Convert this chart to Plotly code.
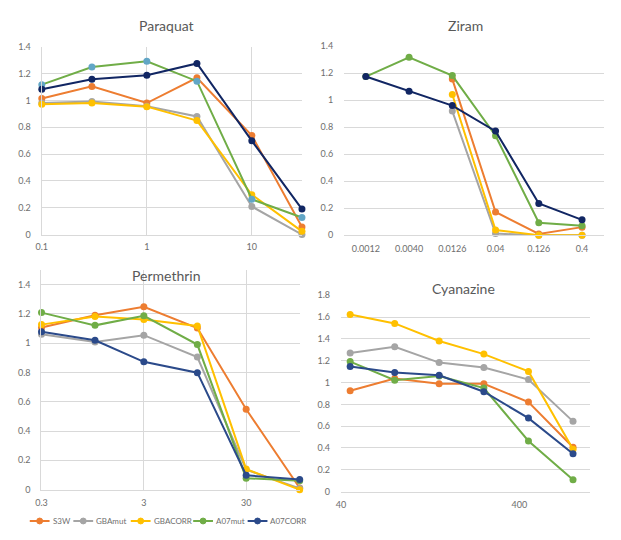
import math
import plotly.graph_objects as go

series_names = ["S3W", "GBAmut", "GBACORR", "A07mut", "A07CORR"]

# Paraquat
paraquat_x = [0.1, 0.3, 1, 3, 10, 30]
paraquat_S3W = [1.015, 1.105, 0.981, 1.169, 0.738, 0.056]
paraquat_GBAmut = [0.981, 0.993, 0.957, 0.881, 0.209, 0.0]
paraquat_GBACORR = [0.971, 0.981, 0.954, 0.850, 0.297, 0.024]
paraquat_A07mut = [1.118, 1.249, 1.293, 1.144, 0.263, 0.127]
paraquat_A07CORR = [1.083, 1.159, 1.188, 1.276, 0.699, 0.190]

# Ziram
ziram_x = ["0.0012", "0.0040", "0.0126", "0.04", "0.126", "0.4"]
ziram_S3W = [None, None, 1.156, 0.172, 0.010, 0.060]
ziram_GBAmut = [None, None, 0.919, 0.012, 0.0, 0.0]
ziram_GBACORR = [None, None, 1.042, 0.039, 0.0, 0.0]
ziram_A07mut = [1.175, 1.318, 1.182, 0.737, 0.092, 0.070]
ziram_A07CORR = [1.175, 1.066, 0.960, 0.771, 0.235, 0.114]

# Permethrin
permethrin_x = [0.3, 1, 3, 10, 30, 100]
permethrin_S3W = [1.106, 1.190, 1.248, 1.103, 0.548, 0.011]
permethrin_GBAmut = [1.061, 1.008, 1.054, 0.905, 0.136, 0.009]
permethrin_GBACORR = [1.126, 1.181, 1.161, 1.117, 0.140, 0.0]
permethrin_A07mut = [1.208, 1.121, 1.186, 0.990, 0.078, 0.060]
permethrin_A07CORR = [1.077, 1.019, 0.872, 0.798, 0.098, 0.069]

# Cyanazine
cyanazine_x = [45, 80, 142, 253, 450, 800]
cyanazine_S3W = [0.925, 1.036, 0.988, 0.988, 0.821, 0.407]
cyanazine_GBAmut = [1.270, 1.327, 1.183, 1.138, 1.027, 0.644]
cyanazine_GBACORR = [1.623, 1.542, 1.381, 1.261, 1.102, 0.389]
cyanazine_A07mut = [1.192, 1.021, 1.060, 0.949, 0.464, 0.108]
cyanazine_A07CORR = [1.147, 1.093, 1.066, 0.916, 0.674, 0.347]

ORANGE = "#ED7D31"
GRAY = "#A5A5A5"
YELLOW = "#FFC000"
GREEN = "#70AD47"
NAVY_DARK = "#112663"
NAVY = "#2B4A8A"
TEAL = "#62A6C6"
GRID = "#D9D9D9"
TXT = "#6E6E6E"
FONT = "Lato"

W, H = 621, 540

def dx(a, b):
    return [a / W, b / W]

def dy(top, bottom):
    return [1 - bottom / H, 1 - top / H]

fig = go.Figure()

panels = [
    dict(n=1, x=paraquat_x, data=[paraquat_S3W, paraquat_GBAmut, paraquat_GBACORR, paraquat_A07mut, paraquat_A07CORR],
         navy=NAVY_DARK, green_marker=TEAL),
    dict(n=2, x=ziram_x, data=[ziram_S3W, ziram_GBAmut, ziram_GBACORR, ziram_A07mut, ziram_A07CORR],
         navy=NAVY_DARK, green_marker=GREEN),
    dict(n=3, x=permethrin_x, data=[permethrin_S3W, permethrin_GBAmut, permethrin_GBACORR, permethrin_A07mut, permethrin_A07CORR],
         navy=NAVY, green_marker=GREEN),
    dict(n=4, x=cyanazine_x, data=[cyanazine_S3W, cyanazine_GBAmut, cyanazine_GBACORR, cyanazine_A07mut, cyanazine_A07CORR],
         navy=NAVY, green_marker=GREEN),
]

for p in panels:
    colors = [ORANGE, GRAY, YELLOW, GREEN, p["navy"]]
    mcolors = [ORANGE, GRAY, YELLOW, p["green_marker"], p["navy"]]
    suffix = "" if p["n"] == 1 else str(p["n"])
    for name, vals, c, mc in zip(series_names, p["data"], colors, mcolors):
        fig.add_trace(go.Scatter(
            x=p["x"], y=vals, name=name, mode="lines+markers",
            line=dict(color=c, width=2),
            marker=dict(color=mc, size=7),
            showlegend=False, cliponaxis=False,
            xaxis="x" + suffix, yaxis="y" + suffix,
        ))

tickfont = dict(family=FONT, size=9, color=TXT)
y14 = [0, 0.2, 0.4, 0.6, 0.8, 1, 1.2, 1.4]
y14t = ["0", "0.2", "0.4", "0.6", "0.8", "1", "1.2", "1.4"]
eps = 0.0015

fig.update_layout(
    width=W, height=H,
    margin=dict(l=0, r=0, t=0, b=0),
    paper_bgcolor="white", plot_bgcolor="white",
    font=dict(family=FONT, color=TXT),
    showlegend=False,
    # Paraquat
    xaxis=dict(domain=dx(36, 299), type="log", range=[-1 - eps, math.log10(30) + eps], tickvals=[0.1, 1, 10],
               ticktext=["0.1", "1", "10"], showgrid=True, gridcolor=GRID, showline=True,
               linecolor=GRID, tickfont=tickfont, ticklabelstandoff=4, zeroline=False, anchor="y"),
    yaxis=dict(domain=dy(41.7, 233.3), range=[0, 1.4], tickvals=y14, ticktext=y14t,
               showgrid=True, gridcolor=GRID, showline=True, linecolor=GRID, zeroline=False,
               tickfont=tickfont, ticklabelstandoff=8, anchor="x"),
    # Ziram
    xaxis2=dict(domain=dx(341.5, 603.5), type="category", range=[-0.5, 5.5], showgrid=False,
                showline=True, linecolor=GRID, tickfont=tickfont, ticklabelstandoff=5, anchor="y2"),
    yaxis2=dict(domain=dy(41, 234), range=[0, 1.4], tickvals=y14, ticktext=y14t,
                showgrid=True, gridcolor=GRID, showline=False, zeroline=False,
                tickfont=tickfont, ticklabelstandoff=10, anchor="x2"),
    # Permethrin
    xaxis3=dict(domain=dx(35.7, 296.7), type="log", range=[math.log10(0.3) - eps, 2 + eps], tickvals=[0.3, 3, 30],
                ticktext=["0.3", "3", "30"], showgrid=True, gridcolor=GRID, showline=True,
                linecolor=GRID, tickfont=tickfont, ticklabelstandoff=5, zeroline=False, anchor="y3"),
    yaxis3=dict(domain=dy(269.3, 493.7), range=[0, 1.5], tickvals=y14, ticktext=y14t,
                showgrid=True, gridcolor=GRID, showline=True, linecolor=GRID, zeroline=False,
                tickfont=tickfont, ticklabelstandoff=8, anchor="x3"),
    # Cyanazine
    xaxis4=dict(domain=dx(338.3, 590), type="log", range=[math.log10(40), 3], tickvals=[40, 400],
                ticktext=["40", "400"], showgrid=False, showline=True, linecolor=GRID,
                tickfont=tickfont, ticklabelstandoff=5, zeroline=False, anchor="y4"),
    yaxis4=dict(domain=dy(295.3, 495.7), range=[0, 1.8],
                tickvals=[0, 0.2, 0.4, 0.6, 0.8, 1, 1.2, 1.4, 1.6, 1.8],
                ticktext=["0", "0.2", "0.4", "0.6", "0.8", "1", "1.2", "1.4", "1.6", "1.8"],
                showgrid=True, gridcolor=GRID, showline=False, zeroline=False,
                tickfont=tickfont, ticklabelstandoff=10, anchor="x4"),
)

titles = [("Paraquat", 161.7, 20), ("Ziram", 464.3, 20), ("Permethrin", 161.7, 275), ("Cyanazine", 461.7, 288)]
for t, x, y in titles:
    fig.add_annotation(text=t, x=x / W, y=1 - y / H, xref="paper", yref="paper",
                       xanchor="center", yanchor="middle", showarrow=False,
                       font=dict(family=FONT, size=14, color="#595959"))

# Legend (shared, under Permethrin) drawn as compact key entries
legend_colors = [ORANGE, GRAY, YELLOW, GREEN, NAVY]
legend_start = [24, 68, 126, 189, 244]
legend_y = 525.7
key_len = 20
for name, c, x0 in zip(series_names, legend_colors, legend_start):
    yy = 1 - legend_y / H
    fig.add_shape(type="line", xref="paper", yref="paper",
                  x0=x0 / W, x1=(x0 + key_len) / W, y0=yy, y1=yy,
                  line=dict(color=c, width=2))
    cx = x0 + key_len / 2
    fig.add_shape(type="circle", xref="paper", yref="paper",
                  x0=(cx - 3) / W, x1=(cx + 3) / W, y0=yy - 3 / H, y1=yy + 3 / H,
                  line=dict(color=c, width=1), fillcolor=c)
    fig.add_annotation(text=name, x=(x0 + key_len + 1) / W, y=yy, xref="paper", yref="paper",
                       xanchor="left", yanchor="middle", showarrow=False,
                       font=dict(family=FONT, size=8, color=TXT))

fig.write_html("out.html")
